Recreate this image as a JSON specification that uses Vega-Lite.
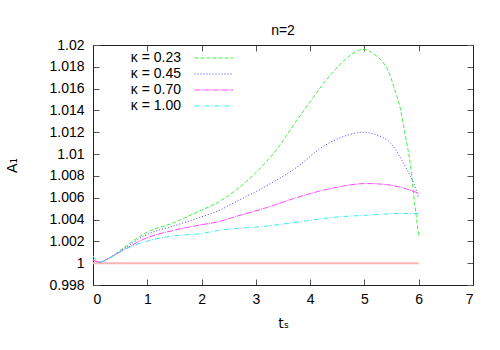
{
  "$schema": "https://vega.github.io/schema/vega-lite/v6.json",
  "width": 380,
  "height": 240,
  "autosize": "none",
  "padding": {"left": 93, "top": 45, "right": 27, "bottom": 65},
  "title": {"text": "n=2", "fontSize": 14, "fontWeight": "normal", "font": "Liberation Sans", "color": "#000", "anchor": "middle", "offset": 5, "dy": 5},
  "config": {
    "font": "Liberation Sans",
    "view": {"stroke": null},
    "axis": {"domainColor": "#222", "domainWidth": 1, "tickColor": "#555", "tickSize": -6, "labelFontSize": 14, "labelColor": "#000", "grid": false, "titleFontSize": 14, "titleFontWeight": "normal", "titleColor": "#000", "labelFont": "Liberation Sans", "titleFont": "DejaVu Sans"},
    "legend": {"orient": "none", "legendX": 114, "legendY": 6, "title": null, "symbolType": "M-3,0H3", "symbolSize": 169, "symbolStrokeWidth": 1, "labelAlign": "right", "labelOffset": -40, "rowPadding": 2, "labelFontSize": 14, "labelColor": "#000", "padding": 0}
  },
  "datasets": {
    "ref": [{"t": 0, "A": 1.0}, {"t": 6, "A": 1.0}],
    "curves": [
      {"k": "κ = 0.23", "t": 0, "A": 1.0003}, {"k": "κ = 0.23", "t": 0.12, "A": 1.0001}, {"k": "κ = 0.23", "t": 0.31, "A": 1.0005}, {"k": "κ = 0.23", "t": 0.56, "A": 1.0014}, {"k": "κ = 0.23", "t": 0.98, "A": 1.0028}, {"k": "κ = 0.23", "t": 1.48, "A": 1.0037}, {"k": "κ = 0.23", "t": 1.97, "A": 1.0048}, {"k": "κ = 0.23", "t": 2.31, "A": 1.0056}, {"k": "κ = 0.23", "t": 2.58, "A": 1.0065}, {"k": "κ = 0.23", "t": 3.0, "A": 1.0083}, {"k": "κ = 0.23", "t": 3.38, "A": 1.0104}, {"k": "κ = 0.23", "t": 3.81, "A": 1.0135}, {"k": "κ = 0.23", "t": 4.0, "A": 1.0148}, {"k": "κ = 0.23", "t": 4.25, "A": 1.0165}, {"k": "κ = 0.23", "t": 4.43, "A": 1.01756}, {"k": "κ = 0.23", "t": 4.61, "A": 1.0185}, {"k": "κ = 0.23", "t": 4.8, "A": 1.01927}, {"k": "κ = 0.23", "t": 4.98, "A": 1.0196}, {"k": "κ = 0.23", "t": 5.23, "A": 1.01896}, {"k": "κ = 0.23", "t": 5.35, "A": 1.01835}, {"k": "κ = 0.23", "t": 5.45, "A": 1.0175}, {"k": "κ = 0.23", "t": 5.54, "A": 1.0162}, {"k": "κ = 0.23", "t": 5.66, "A": 1.0142}, {"k": "κ = 0.23", "t": 5.75, "A": 1.0118}, {"k": "κ = 0.23", "t": 5.85, "A": 1.0089}, {"k": "κ = 0.23", "t": 5.91, "A": 1.0062}, {"k": "κ = 0.23", "t": 6.0, "A": 1.0025},
      {"k": "κ = 0.45", "t": 0, "A": 1.0003}, {"k": "κ = 0.45", "t": 0.12, "A": 1.0001}, {"k": "κ = 0.45", "t": 0.31, "A": 1.0005}, {"k": "κ = 0.45", "t": 0.56, "A": 1.0013}, {"k": "κ = 0.45", "t": 0.98, "A": 1.0026}, {"k": "κ = 0.45", "t": 1.48, "A": 1.0034}, {"k": "κ = 0.45", "t": 1.97, "A": 1.0042}, {"k": "κ = 0.45", "t": 2.31, "A": 1.0048}, {"k": "κ = 0.45", "t": 2.58, "A": 1.0055}, {"k": "κ = 0.45", "t": 3.2, "A": 1.0071}, {"k": "κ = 0.45", "t": 3.81, "A": 1.009}, {"k": "κ = 0.45", "t": 4.18, "A": 1.0105}, {"k": "κ = 0.45", "t": 4.61, "A": 1.0116}, {"k": "κ = 0.45", "t": 4.98, "A": 1.012}, {"k": "κ = 0.45", "t": 5.2, "A": 1.0118}, {"k": "κ = 0.45", "t": 5.48, "A": 1.011}, {"k": "κ = 0.45", "t": 5.78, "A": 1.0086}, {"k": "κ = 0.45", "t": 5.91, "A": 1.0073}, {"k": "κ = 0.45", "t": 6.0, "A": 1.006},
      {"k": "κ = 0.70", "t": 0, "A": 1.0003}, {"k": "κ = 0.70", "t": 0.12, "A": 1.0001}, {"k": "κ = 0.70", "t": 0.31, "A": 1.0005}, {"k": "κ = 0.70", "t": 0.56, "A": 1.0012}, {"k": "κ = 0.70", "t": 0.98, "A": 1.0023}, {"k": "κ = 0.70", "t": 1.48, "A": 1.003}, {"k": "κ = 0.70", "t": 1.97, "A": 1.0035}, {"k": "κ = 0.70", "t": 2.31, "A": 1.0038}, {"k": "κ = 0.70", "t": 2.58, "A": 1.0042}, {"k": "κ = 0.70", "t": 3.2, "A": 1.0051}, {"k": "κ = 0.70", "t": 3.81, "A": 1.0061}, {"k": "κ = 0.70", "t": 4.43, "A": 1.0069}, {"k": "κ = 0.70", "t": 5.04, "A": 1.0073}, {"k": "κ = 0.70", "t": 5.41, "A": 1.0072}, {"k": "κ = 0.70", "t": 5.78, "A": 1.0068}, {"k": "κ = 0.70", "t": 6.0, "A": 1.0064},
      {"k": "κ = 1.00", "t": 0, "A": 1.0007}, {"k": "κ = 1.00", "t": 0.05, "A": 1.0003}, {"k": "κ = 1.00", "t": 0.12, "A": 1.0001}, {"k": "κ = 1.00", "t": 0.31, "A": 1.0005}, {"k": "κ = 1.00", "t": 0.56, "A": 1.0012}, {"k": "κ = 1.00", "t": 0.98, "A": 1.002}, {"k": "κ = 1.00", "t": 1.48, "A": 1.0025}, {"k": "κ = 1.00", "t": 1.97, "A": 1.0027}, {"k": "κ = 1.00", "t": 2.31, "A": 1.003}, {"k": "κ = 1.00", "t": 3.2, "A": 1.0034}, {"k": "κ = 1.00", "t": 3.81, "A": 1.0038}, {"k": "κ = 1.00", "t": 4.43, "A": 1.0042}, {"k": "κ = 1.00", "t": 5.04, "A": 1.0044}, {"k": "κ = 1.00", "t": 5.66, "A": 1.00455}, {"k": "κ = 1.00", "t": 6.0, "A": 1.00455}
    ]
  },
  "layer": [
    {
      "data": {"name": "ref"},
      "mark": {"type": "line", "color": "#ffb4b4", "strokeWidth": 2},
      "encoding": {
        "x": {"field": "t", "type": "quantitative", "scale": {"domain": [0, 7], "nice": false}, "axis": {"orient": "top", "labels": false, "title": null, "values": [0, 1, 2, 3, 4, 5, 6, 7]}},
        "y": {"field": "A", "type": "quantitative", "scale": {"domain": [0.998, 1.02], "nice": false, "zero": false}, "axis": {"orient": "right", "labels": false, "title": null, "values": [0.998, 1.0, 1.002, 1.004, 1.006, 1.008, 1.01, 1.012, 1.014, 1.016, 1.018, 1.02]}}
      }
    },
    {
      "data": {"name": "curves"},
      "mark": {"type": "line", "strokeWidth": 1, "interpolate": "monotone"},
      "encoding": {
        "x": {"field": "t", "type": "quantitative", "axis": {"orient": "bottom", "title": "tₛ", "values": [0, 1, 2, 3, 4, 5, 6, 7], "labelPadding": 13, "titlePadding": 10}},
        "y": {"field": "A", "type": "quantitative", "axis": {"orient": "left", "title": "A₁", "format": "~g", "values": [0.998, 1.0, 1.002, 1.004, 1.006, 1.008, 1.01, 1.012, 1.014, 1.016, 1.018, 1.02], "labelPadding": 15, "titlePadding": 29}},
        "color": {"field": "k", "type": "nominal", "scale": {"domain": ["κ = 0.23", "κ = 0.45", "κ = 0.70", "κ = 1.00"], "range": ["#44ee44", "#4444ff", "#ff44ff", "#33eeee"]}},
        "strokeDash": {"field": "k", "type": "nominal", "scale": {"domain": ["κ = 0.23", "κ = 0.45", "κ = 0.70", "κ = 1.00"], "range": [[4, 2], [1, 2], [6, 1, 1, 1], [5, 2, 1, 2]]}}
      }
    }
  ],
  "resolve": {"axis": {"x": "independent", "y": "independent"}}
}
